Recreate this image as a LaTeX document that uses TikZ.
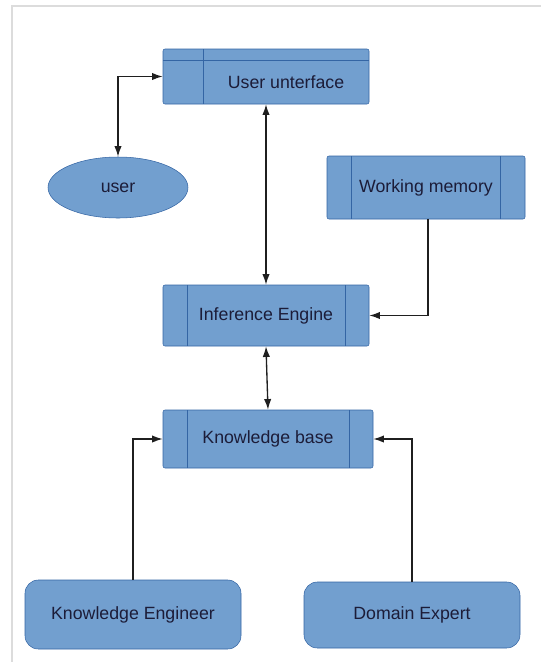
\documentclass[tikz,border=0pt]{standalone}
\usepackage{fontspec}
\setmainfont{Liberation Sans}
\usepackage{tikz}
\usetikzlibrary{shapes.geometric, arrows.meta, calc}
\usepackage{xcolor}
\definecolor{boxfill}{HTML}{729FCF}
\definecolor{boxline}{HTML}{3465A4}
\definecolor{boxtext}{HTML}{1C1C38}
\definecolor{framegray}{HTML}{DCDCDC}
\tikzset{
  blok/.style = {draw = boxline, fill = boxfill, rounded corners = 1.5pt, inner sep = 0pt,
    text = boxtext, font = \fontsize{13.3}{16}\selectfont},
  lbl/.style = {text = boxtext, font = \fontsize{13.3}{16}\selectfont, inner sep = 0pt},
  procbox/.style = {blok, path picture = {
    \draw[boxline] ([xshift = #1]path picture bounding box.north west) -- ([xshift = #1]path picture bounding box.south west);
    \draw[boxline] ([xshift = -#1]path picture bounding box.north east) -- ([xshift = -#1]path picture bounding box.south east);}},
  storebox/.style = {blok, path picture = {
    \draw[boxline] ([xshift = 30pt]path picture bounding box.north west) -- ([xshift = 30pt]path picture bounding box.south west);
    \draw[boxline] ([yshift = -8.25pt]path picture bounding box.north west) -- ([yshift = -8.25pt]path picture bounding box.north east);}},
  roundbox/.style = {blok, rounded corners = 10pt},
  link/.style = {draw = black!88, line width = 1pt},
  tip/.tip = {Latex[length = 8pt, width = 5.5pt]},
}
\begin{document}
\begin{tikzpicture}[x = 0.75pt, y = -0.75pt]
    % Cornice
    \useasboundingbox (0,0) rectangle (541,662);
    \draw[framegray, line width = 0.8pt] (12,662) -- (12,6) -- (541,6);
    % Blocchi
    \node[storebox, minimum width = 154.5pt, minimum height = 41.25pt] (ui) at (266,76.5) {};
    \node[lbl] (uitext) at (286,82) {User unterface};
    \node[blok, ellipse, minimum width = 105pt, minimum height = 45.75pt] (user) at (118,187.5) {user};
    \node[procbox = 18.5pt, minimum width = 148.5pt, minimum height = 47.25pt] (wm) at (426,187.5) {Working memory};
    \node[procbox = 18pt, minimum width = 154.5pt, minimum height = 45.75pt] (ie) at (266,315.5) {Inference Engine};
    \node[procbox = 18pt, minimum width = 157.5pt, minimum height = 43.5pt] (kb) at (268,439) {Knowledge base};
    \node[roundbox, minimum width = 162pt, minimum height = 51.75pt] (ke) at (133,614.5) {Knowledge Engineer};
    \node[roundbox, minimum width = 162pt, minimum height = 49.5pt] (de) at (412,615) {Domain Expert};
    % Frecce
    \draw[link, tip-tip] (user.north) |- (ui.west);
    \draw[link, tip-tip] (ui.south) -- (ie.north);
    \draw[link, -tip] ($(wm.south)+(2,0)$) |- (ie.east);
    \draw[link, tip-tip] (ie.south) -- (kb.north);
    \draw[link, -tip] (ke.north) |- (kb.west);
    \draw[link, -tip] (de.north) |- (kb.east);
\end{tikzpicture}
\end{document}
